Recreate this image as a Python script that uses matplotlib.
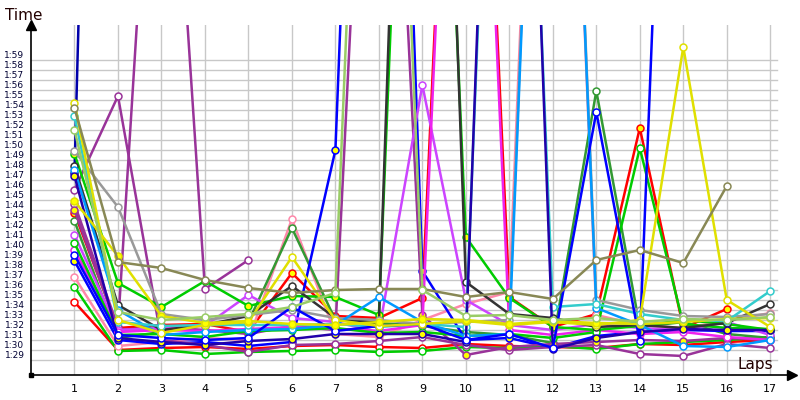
import matplotlib
matplotlib.use("Agg")
import matplotlib.pyplot as plt
import numpy as np

# lap times in seconds, one list per car (None = no lap)
laps = list(range(1, 18))

red_a = [94.8, 90.0, 90.2, 90.3, 90.1, 90.4, 90.5, 90.3, 90.2, 90.6, 90.4, 90.3, 90.2, 90.6, 90.5, 90.8, 91.0]
red_b = [103.7, 92.2, 92.5, 92.6, 91.8, 97.7, 93.4, 93.2, 95.2, 190.0, 95.3, 92.3, 93.6, 112.2, 92.2, 94.1, None]
green_a = [96.3, 89.9, 90.0, 89.6, 89.8, 89.9, 90.0, 89.8, 89.9, 90.3, 90.2, 90.4, 90.1, 90.6, 90.8, 91.0, 91.3]
pink = [97.3, 90.4, 90.8, 91.2, 91.0, 103.1, 91.6, 91.3, 93.0, 94.6, 95.8, 200.0, 93.5, 92.5, 92.2, 92.9, 93.7]
forest = [102.9, 91.2, 91.8, 92.6, 92.8, 102.2, 93.0, 92.7, 92.4, 91.8, 91.5, 90.7, 115.9, 92.3, 92.8, 91.6, 91.2]
blue_a = [98.9, 91.0, 90.6, 90.8, 90.4, 90.8, 110.0, 220.0, 97.9, 91.0, 91.2, 90.2, 91.4, 91.8, 92.0, 91.9, 91.9]
navy_a = [107.7, 270.0] + [None] * 15
purple_a = [104.6, 92.3, 162.0, 96.1, 99.0] + [None] * 12
purple_b = [106.0, 115.4, 91.0, 90.5, 89.8, 90.5, 90.6, 90.9, 91.3, 90.5, 90.0, 90.3, 90.5, 89.6, 89.4, 90.6, 90.2]
purple_c = [104.0, 92.0, 92.3, 92.0, 91.6, 92.4, 92.0, 180.0, 93.5, 89.5, 90.3, 90.6, 90.8, 91.0, 90.9, 91.2, 91.0]
violet = [101.5, 92.0, 92.2, 92.4, 95.5, 93.2, 92.8, 91.8, 116.5, 95.0, 92.5, 92.0, 92.6, 92.2, 92.0, 92.8, 91.5]
magenta = [100.0, 91.8, 92.0, 91.9, 92.1, 92.3, 92.1, 91.9, 92.5, 190.0, 92.0, 91.5, 92.0, 91.6, 91.8, 91.3, 91.0]
green_b = [109.6, 96.7, 94.3, 96.9, 94.4, 95.4, 95.3, 93.5, 200.0, 101.3, 95.2, 92.3, 92.0, 92.4, 93.0, 92.6, 92.0]
green_c = [100.7, 91.5, 91.6, 91.3, 91.9, 92.0, 92.2, 91.7, 91.8, 91.4, 91.6, 91.2, 91.8, 110.2, 92.6, 92.2, 92.1]
dark = [108.4, 94.5, 92.0, 92.5, 93.4, 96.4, 93.2, 92.7, 220.0, 96.8, 93.6, 93.2, 92.3, 92.5, 92.2, 92.7, 94.6]
grey = [109.9, 104.3, 93.6, 93.0, 93.5, 94.0, 93.2, 93.0, 92.6, 92.8, 93.0, 200.0, 95.0, 94.0, 93.4, 93.3, 93.6]
light_blue = [108.0, 94.0, 91.5, 91.8, 92.0, 92.1, 92.5, 95.3, 92.8, 91.4, 91.6, 200.0, 94.2, 92.5, 90.4, 90.3, 91.0]
cyan = [113.4, 92.8, 92.4, 92.5, 92.5, 92.5, 92.6, 92.3, 92.6, 92.3, 200.0, 94.3, 94.6, 93.6, 93.0, 92.9, 95.9]
navy_b = [107.4, 91.2, 90.8, 90.5, 90.9, 91.1, 91.6, 91.6, 91.6, 90.8, 210.0, 90.1, 91.2, 91.8, 92.1, 92.0, 92.0]
blue_b = [99.5, 91.5, 91.2, 91.0, 91.2, 94.3, 91.9, 92.4, 92.6, 91.0, 91.6, 90.2, 113.8, 90.9, 200.0, None, None]
yellow_a = [114.7, 93.0, 91.7, 92.5, 92.8, 99.3, 93.0, 92.4, 92.6, 92.9, 92.5, 92.8, 92.5, 93.0, 120.3, 95.0, 92.3]
yellow_b = [104.9, 99.4, 93.4, 92.7, 92.9, 92.6, 92.5, 92.8, 93.1, 93.0, 92.6, 92.9, 92.7, 92.6, 92.8, 93.1, 93.2]
olive = [114.2, 98.8, 98.2, 97.0, 96.2, 95.7, 96.0, 96.1, 96.1, 95.3, 95.8, 95.1, 99.0, 100.0, 98.7, 106.4, None]
yellow_green = [112.0, 93.8, 93.0, 93.3, 93.6, 94.3, 95.7, 200.0, 96.0, 93.4, 93.5, 93.0, 93.2, 92.8, 93.1, 93.0, 93.3]

cars = {
    "red_a": (red_a, "#ff0000", "white"),
    "red_b": (red_b, "#ff0000", "#ffff00"),
    "green_a": (green_a, "#00cc00", "white"),
    "pink": (pink, "#ff88aa", "white"),
    "forest": (forest, "#339933", "white"),
    "blue_a": (blue_a, "#0000ff", "#ffff00"),
    "navy_a": (navy_a, "#0000aa", "white"),
    "purple_a": (purple_a, "#993399", "white"),
    "purple_b": (purple_b, "#993399", "white"),
    "purple_c": (purple_c, "#993399", "#ffff00"),
    "violet": (violet, "#cc44ff", "white"),
    "magenta": (magenta, "#ee22ee", "white"),
    "green_b": (green_b, "#00cc00", "#ffff00"),
    "green_c": (green_c, "#00cc00", "white"),
    "dark": (dark, "#333333", "white"),
    "grey": (grey, "#999999", "white"),
    "light_blue": (light_blue, "#0099ff", "white"),
    "cyan": (cyan, "#33cccc", "white"),
    "navy_b": (navy_b, "#2200aa", "#ffff00"),
    "blue_b": (blue_b, "#0000ff", "white"),
    "yellow_a": (yellow_a, "#e0e000", "white"),
    "yellow_b": (yellow_b, "#e0e000", "#ffff00"),
    "olive": (olive, "#888855", "white"),
    "yellow_green": (yellow_green, "#99cc66", "white"),
}

y_ticks = list(range(89, 120))

fig = plt.figure(figsize=(8, 4), dpi=100)
ax = fig.add_axes([31 / 800, 25 / 400, 761 / 800, 350 / 400])
ax.set_xlim(0, 17.5)
ax.set_ylim(87.5, 122.5)

# grid
for v in y_ticks:
    ax.plot([0, 17.15], [v, v], color="#c8c8c8", lw=1, zorder=1)
for x in laps:
    ax.axvline(x, color="#c8c8c8", lw=1, zorder=1)

for name, (vals, col, face) in cars.items():
    ys = np.array([np.nan if v is None else v for v in vals], dtype=float)
    ax.plot(laps, ys, color=col, lw=1.8, marker="o", ms=5,
            mfc=face, mec=col, mew=1.1, zorder=3)

for s in ["top", "right"]:
    ax.spines[s].set_visible(False)
ax.spines["left"].set_linewidth(1.2)
ax.spines["bottom"].set_linewidth(1.2)
ax.set_xticks([])
ax.set_yticks([])

# tick labels
for v in y_ticks:
    ax.text(-0.15, v + 0.5, f"1:{v - 60:02d}", ha="right", va="center",
            fontsize=6.5, color="#000033", clip_on=False)
for x in laps:
    ax.text(x, 86.6, str(x), ha="center", va="top", fontsize=8, clip_on=False)

# arrow heads and origin box
ax.plot([0], [122.5], marker="^", color="black", ms=7, clip_on=False, zorder=5)
ax.plot([17.5], [87.5], marker=">", color="black", ms=7, clip_on=False, zorder=5)
ax.plot([0], [87.5], marker="s", color="black", ms=3, clip_on=False, zorder=5)

fig.text(5 / 800, 1 - 15 / 400, "Time", fontsize=11, ha="left", va="center", color="#220000")
fig.text(773 / 800, 1 - 364 / 400, "Laps", fontsize=11, ha="right", va="center", color="#220000")

fig.savefig("out.png", dpi=100)
